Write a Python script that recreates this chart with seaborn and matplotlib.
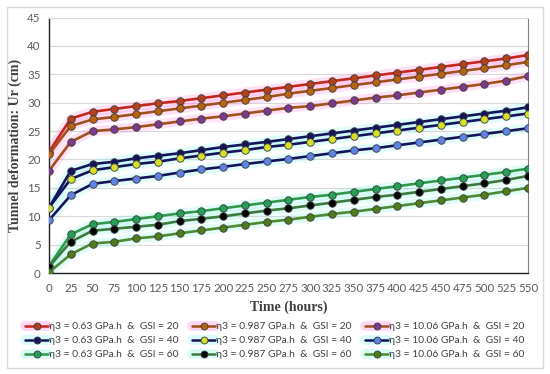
import matplotlib
matplotlib.use("Agg")
import matplotlib.pyplot as plt
from matplotlib.patches import Rectangle
from matplotlib.lines import Line2D
from matplotlib.legend_handler import HandlerTuple
import numpy as np
import pandas as pd
import seaborn as sns

# time axis (hours)
hours = list(range(0, 551, 25))

eta_labels = ["0.63", "0.987", "10.06"]
gsi_labels = ["20", "40", "60"]

# tunnel deformation Ur (cm)
ur_g20_063 = [21.3, 27.2, 28.4, 28.9, 29.4, 29.9, 30.3, 30.8, 31.3, 31.8, 32.3, 32.8,
              33.3, 33.8, 34.3, 34.8, 35.3, 35.8, 36.3, 36.8, 37.3, 37.8, 38.4]
ur_g20_0987 = [20.9, 25.9, 27.05, 27.5, 28.0, 28.5, 29.0, 29.5, 30.0, 30.5, 31.0, 31.6,
               32.1, 32.6, 33.1, 33.6, 34.1, 34.6, 35.1, 35.6, 36.1, 36.6, 37.2]
ur_g20_1006 = [18.0, 23.1, 25.0, 25.3, 25.7, 26.2, 26.7, 27.2, 27.6, 28.1, 28.6, 29.1,
               29.4, 29.9, 30.4, 30.9, 31.3, 31.8, 32.3, 32.8, 33.3, 33.9, 34.7]
ur_g40_063 = [11.5, 18.0, 19.2, 19.6, 20.2, 20.65, 21.1, 21.65, 22.2, 22.65, 23.1, 23.6,
              24.1, 24.6, 25.1, 25.6, 26.1, 26.6, 27.1, 27.6, 28.1, 28.6, 29.2]
ur_g40_0987 = [11.5, 16.55, 18.1, 18.65, 19.2, 19.6, 20.2, 20.7, 21.2, 21.65, 22.2, 22.6,
               23.1, 23.6, 24.1, 24.6, 25.1, 25.6, 26.1, 26.6, 27.1, 27.6, 28.1]
ur_g40_1006 = [9.3, 13.7, 15.7, 16.2, 16.65, 17.1, 17.7, 18.25, 18.7, 19.2, 19.65, 20.1,
               20.6, 21.1, 21.6, 22.0, 22.5, 23.0, 23.5, 24.0, 24.5, 25.0, 25.5]
ur_g60_063 = [1.2, 6.8, 8.6, 9.0, 9.5, 10.0, 10.5, 10.9, 11.4, 11.9, 12.4, 12.9,
              13.4, 13.8, 14.3, 14.8, 15.3, 15.8, 16.3, 16.8, 17.3, 17.8, 18.4]
ur_g60_0987 = [1.1, 5.5, 7.45, 7.8, 8.15, 8.5, 9.15, 9.55, 10.0, 10.5, 11.0, 11.4,
               11.9, 12.4, 12.9, 13.4, 13.8, 14.3, 14.8, 15.3, 15.8, 16.4, 17.1]
ur_g60_1006 = [0.1, 3.3, 5.2, 5.5, 6.1, 6.45, 7.0, 7.5, 8.0, 8.5, 9.0, 9.4,
               9.9, 10.4, 10.8, 11.3, 11.8, 12.3, 12.8, 13.3, 13.8, 14.4, 15.0]

series = {
    ("0.63", "20"): ur_g20_063, ("0.987", "20"): ur_g20_0987, ("10.06", "20"): ur_g20_1006,
    ("0.63", "40"): ur_g40_063, ("0.987", "40"): ur_g40_0987, ("10.06", "40"): ur_g40_1006,
    ("0.63", "60"): ur_g60_063, ("0.987", "60"): ur_g60_0987, ("10.06", "60"): ur_g60_1006,
}

# (line colour, marker face colour)
styles = {
    ("0.63", "20"): ("#c8261a", "#b5411c"),
    ("0.987", "20"): ("#a4501c", "#b8640e"),
    ("10.06", "20"): ("#a4501c", "#7d3a8c"),
    ("0.63", "40"): ("#14145c", "#14145c"),
    ("0.987", "40"): ("#14145c", "#d6e02c"),
    ("10.06", "40"): ("#14145c", "#5f82e6"),
    ("0.63", "60"): ("#2f9a4c", "#25a055"),
    ("0.987", "60"): ("#3d7a3d", "#050505"),
    ("10.06", "60"): ("#4d8a32", "#507c1c"),
}
glow = {"20": "#ff7ad9", "40": "#7ff5f5", "60": "#7ff5e0"}

sns.set_style("white")
plt.rcParams["font.family"] = ["Lato", "DejaVu Sans"]

fig = plt.figure(figsize=(5.5, 3.74), dpi=100)
ax = fig.add_axes([0.089, 0.27, 0.871, 0.683])

fig.patches.append(Rectangle((0.012, 0.016), 0.976, 0.966, transform=fig.transFigure,
                             fill=False, edgecolor="#d9d9d9", linewidth=1.0))

# glow underlay
for (eta, gsi), vals in series.items():
    sns.lineplot(x=hours, y=vals, ax=ax, color=glow[gsi], linewidth=7, alpha=0.22,
                 legend=False, zorder=1)

handles, labels = [], []
for eta in eta_labels:
    for gsi in gsi_labels:
        vals = series[(eta, gsi)]
        lc, mc = styles[(eta, gsi)]
        sns.lineplot(x=hours, y=vals, ax=ax, color=lc, linewidth=1.9, marker="o",
                     markersize=5.4, markerfacecolor=mc, markeredgecolor="#3a3a3a",
                     markeredgewidth=0.6, legend=False, zorder=3)
        g = Line2D([], [], color=glow[gsi], linewidth=7, alpha=0.3)
        h = Line2D([], [], color=lc, linewidth=1.8, marker="o", markersize=5,
                   markerfacecolor=mc, markeredgecolor="#3a3a3a", markeredgewidth=0.6)
        handles.append((g, h))
        labels.append(f"η3 = {eta} GPa.h  &  GSI = {gsi}")

ax.set_xlim(0, 550)
ax.set_ylim(0, 45)
ax.set_xticks(hours)
ax.set_yticks(range(0, 46, 5))
ax.yaxis.grid(True, color="#d9d9d9", linewidth=0.8)
ax.set_axisbelow(True)
ax.tick_params(axis="x", direction="out", length=4, width=0.8, color="#222222",
               labelsize=8.3, labelcolor="#595959", pad=3)
ax.tick_params(axis="y", length=0, labelsize=8.3, labelcolor="#595959", pad=6)

for side in ["left", "bottom"]:
    ax.spines[side].set_color("#222222")
    ax.spines[side].set_linewidth(1.0)
ax.spines["right"].set_color("#808080")
ax.spines["right"].set_linewidth(0.8)
ax.spines["top"].set_color("#d9d9d9")
ax.spines["top"].set_linewidth(0.8)

ax.set_xlabel("Time (hours)", fontsize=10, fontweight="bold", color="#404040",
              family=["Liberation Serif"], labelpad=5)
ax.set_ylabel("Tunnel deformation: Ur (cm)", fontsize=10, fontweight="bold",
              color="#404040", family=["Liberation Serif"], labelpad=4)

fig.legend(handles, labels, ncol=3, loc="upper center", bbox_to_anchor=(0.5, 0.163),
           frameon=False, fontsize=7.4, handlelength=2.2, handletextpad=0.15,
           columnspacing=1.3, labelspacing=0.45, labelcolor="#404040",
           handler_map={tuple: HandlerTuple(ndivide=1)})

fig.savefig("out.png", dpi=100)
plt.close(fig)
